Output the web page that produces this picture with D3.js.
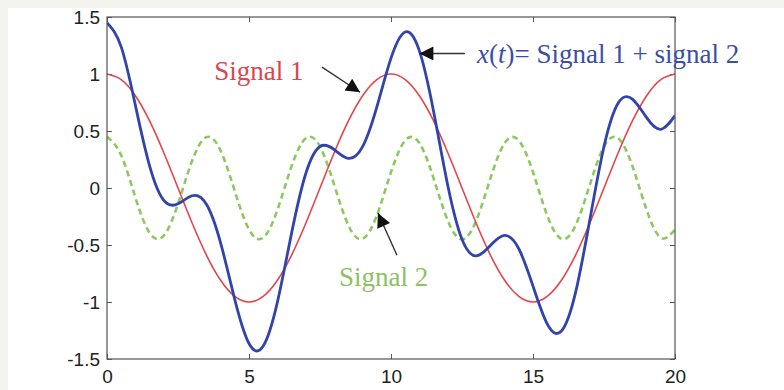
<!DOCTYPE html>
<html>
<head>
<meta charset="utf-8">
<script src="https://cdn.jsdelivr.net/npm/d3@7"></script>
<style>
  body { margin: 0; background: #f4f4ee; }
  svg { display: block; }
  .tick text { font-family: "Liberation Sans", Arial, sans-serif; font-size: 19px; fill: #222; }
  .tick line { stroke: #555; }
  .note { font-family: "Liberation Serif", "Times New Roman", serif; font-size: 27px; }
</style>
</head>
<body>
<svg width="784" height="390"></svg>
<script>
// time samples (step 0.5)
const t = [0,0.5,1,1.5,2,2.5,3,3.5,4,4.5,5,5.5,6,6.5,7,7.5,8,8.5,9,9.5,10,
  10.5,11,11.5,12,12.5,13,13.5,14,14.5,15,15.5,16,16.5,17,17.5,18,18.5,19,19.5,20];

const signal1 = [1,0.951,0.809,0.588,0.309,0,-0.309,-0.588,-0.809,-0.951,-1,
  -0.951,-0.809,-0.588,-0.309,0,0.309,0.588,0.809,0.951,1,
  0.951,0.809,0.588,0.309,0,-0.309,-0.588,-0.809,-0.951,-1,
  -0.951,-0.809,-0.588,-0.309,0,0.309,0.588,0.809,0.951,1];

const signal2 = [0.45,0.287,-0.084,-0.394,-0.418,-0.139,0.241,0.446,0.328,-0.028,-0.364,
  -0.436,-0.192,0.192,0.436,0.364,0.028,-0.328,-0.446,-0.241,0.139,
  0.418,0.394,0.084,-0.287,-0.45,-0.287,0.084,0.394,0.418,0.139,
  -0.241,-0.446,-0.328,0.028,0.364,0.436,0.192,-0.192,-0.436,-0.364];

const xsum = [1.45,1.238,0.725,0.194,-0.109,-0.139,-0.068,-0.142,-0.481,-0.979,-1.364,
  -1.387,-1.001,-0.396,0.127,0.364,0.337,0.26,0.363,0.71,1.139,
  1.369,1.203,0.672,0.022,-0.45,-0.596,-0.504,-0.415,-0.533,-0.861,
  -1.192,-1.255,-0.916,-0.281,0.364,0.745,0.78,0.617,0.515,0.636];

const xTicks = [0, 5, 10, 15, 20];
const yTicks = [-1.5, -1, -0.5, 0, 0.5, 1, 1.5];

// annotations in data units: label position, arrow tail and arrow tip
const notes = [
  { text: "Signal 1", color: "#d9464d", tx: 3.78, ty: 0.95, from: [7.57, 1.06], to: [8.91, 0.84] },
  { text: "x(t)= Signal 1 + signal 2", color: "#3a4ea8", tx: 13.03, ty: 1.10, from: [12.6, 1.18], to: [11.0, 1.18] },
  { text: "Signal 2", color: "#8cc263", tx: 8.17, ty: -0.86, from: [10.21, -0.59], to: [9.54, -0.22] }
];

const svg = d3.select("svg"),
  width = +svg.attr("width"),
  height = +svg.attr("height");
const margin = { top: 17, right: 109, bottom: 31, left: 107 };
const w = width - margin.left - margin.right,
  h = height - margin.top - margin.bottom;

svg.append("rect").attr("x", 8).attr("y", 8).attr("width", width - 8).attr("height", height - 8).attr("fill", "#fff");

const g = svg.append("g").attr("transform", `translate(${margin.left},${margin.top})`);

const x = d3.scaleLinear().domain([0, 20]).range([0, w]);
const y = d3.scaleLinear().domain([-1.5, 1.5]).range([h, 0]);

// axes with inward ticks on all four sides
g.append("g").attr("transform", `translate(0,${h})`)
  .call(d3.axisBottom(x).tickValues(xTicks).tickSize(-5).tickSizeOuter(0).tickPadding(11).tickFormat(d3.format("d")));
g.append("g")
  .call(d3.axisLeft(y).tickValues(yTicks).tickSize(-5).tickSizeOuter(0).tickPadding(7).tickFormat(d => d));
g.append("g")
  .call(d3.axisTop(x).tickValues(xTicks).tickSize(-5).tickSizeOuter(0).tickFormat(""));
g.append("g").attr("transform", `translate(${w},0)`)
  .call(d3.axisRight(y).tickValues(yTicks).tickSize(-5).tickSizeOuter(0).tickFormat(""));
g.selectAll(".domain").remove();

const clip = g.append("clipPath").attr("id", "clip");
clip.append("rect").attr("width", w).attr("height", h);

const line = d3.line()
  .x((d, i) => x(t[i]))
  .y(d => y(d))
  .curve(d3.curveNatural);

const plot = g.append("g").attr("clip-path", "url(#clip)");

plot.append("path").datum(signal2)
  .attr("fill", "none").attr("stroke", "#8dc861").attr("stroke-width", 2.6)
  .attr("stroke-dasharray", "6,4").attr("d", line);

plot.append("path").datum(signal1)
  .attr("fill", "none").attr("stroke", "#e2474c").attr("stroke-width", 1.6).attr("d", line);

plot.append("path").datum(xsum)
  .attr("fill", "none").attr("stroke", "#3044ac").attr("stroke-width", 2.8).attr("d", line);

// box
g.append("rect").attr("width", w).attr("height", h)
  .attr("fill", "none").attr("stroke", "#555").attr("stroke-width", 1.2);

// arrows
svg.append("defs").append("marker")
  .attr("id", "head").attr("viewBox", "0 0 10 10")
  .attr("refX", 10).attr("refY", 5)
  .attr("markerWidth", 16).attr("markerHeight", 14)
  .attr("markerUnits", "userSpaceOnUse")
  .attr("orient", "auto")
  .append("path").attr("d", "M0,0 L10,5 L0,10 Z").attr("fill", "#111");

g.selectAll("line.arrow").data(notes).enter().append("line")
  .attr("class", "arrow")
  .attr("x1", d => x(d.from[0])).attr("y1", d => y(d.from[1]))
  .attr("x2", d => x(d.to[0])).attr("y2", d => y(d.to[1]))
  .attr("stroke", "#333").attr("stroke-width", 1.4)
  .attr("marker-end", "url(#head)");

// labels
const labels = g.selectAll("text.note").data(notes).enter().append("text")
  .attr("class", "note")
  .attr("x", d => x(d.tx)).attr("y", d => y(d.ty))
  .attr("fill", d => d.color);

labels.each(function(d) {
  const el = d3.select(this);
  if (d.text.startsWith("x(t)")) {
    el.append("tspan").attr("font-style", "italic").text("x");
    el.append("tspan").text("(");
    el.append("tspan").attr("font-style", "italic").text("t");
    el.append("tspan").text(d.text.slice(3));
  } else {
    el.text(d.text);
  }
});
</script>
</body>
</html>
